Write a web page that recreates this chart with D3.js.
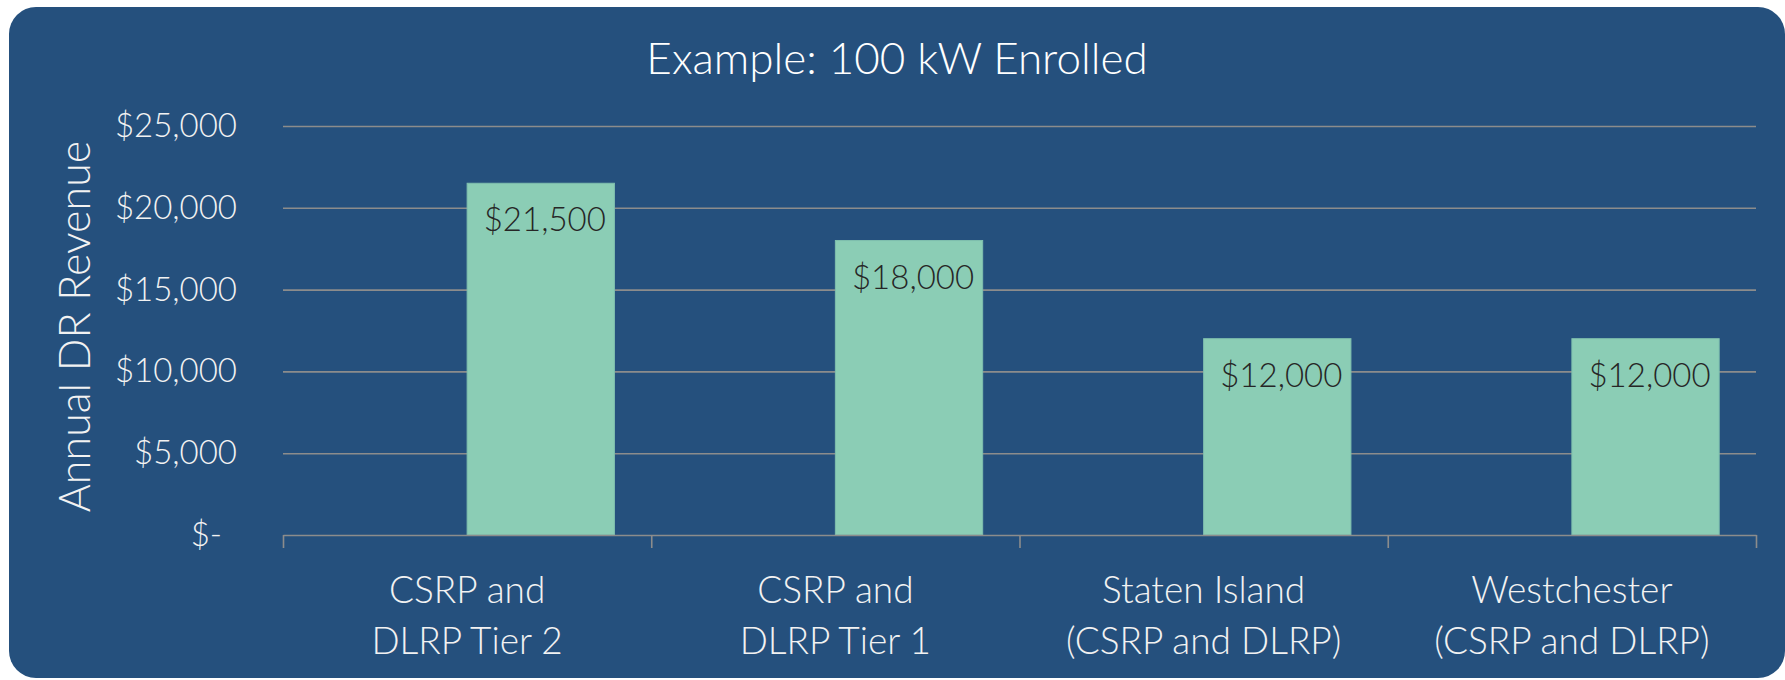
<!DOCTYPE html>
<html>
<head>
<meta charset="utf-8">
<script src="https://cdn.jsdelivr.net/npm/d3@7"></script>
<style>
  html, body { margin: 0; padding: 0; background: #ffffff; }
  svg { display: block; }
  text { font-family: "Lato", "Open Sans", sans-serif; font-weight: 300; }
</style>
</head>
<body>
<svg id="chart" width="1785" height="680"></svg>
<script>
// ---- data ----
const categories = [
  ["CSRP and", "DLRP Tier 2"],
  ["CSRP and", "DLRP Tier 1"],
  ["Staten Island", "(CSRP and DLRP)"],
  ["Westchester", "(CSRP and DLRP)"]
];
const categoryKeys = ["CSRP and DLRP Tier 2", "CSRP and DLRP Tier 1", "Staten Island (CSRP and DLRP)", "Westchester (CSRP and DLRP)"];
const seriesNames = ["Series 1", "Series 2"];
const series1Values = [null, null, null, null];
const series2Values = [21500, 18000, 12000, 12000];
const dataLabels = ["$21,500", "$18,000", "$12,000", "$12,000"];
const yTicks = [0, 5000, 10000, 15000, 20000, 25000];
const yTickLabels = ["$-", "$5,000", "$10,000", "$15,000", "$20,000", "$25,000"];
const chartTitle = "Example: 100 kW Enrolled";
const yAxisTitle = "Annual DR Revenue";

// ---- layout ----
const svg = d3.select("#chart");
const plot = { left: 283, right: 1756, top: 126, bottom: 535 };
const bg = "#25507d";
const barColor = "#8bcdb5";
const gridColor = "#8c8c8c";
const textLight = "#f2f2f2";
const labelDark = "#262626";

svg.append("rect")
  .attr("x", 9).attr("y", 7)
  .attr("width", 1776).attr("height", 671)
  .attr("rx", 27).attr("ry", 27)
  .attr("fill", bg);

const x = d3.scaleBand().domain(categoryKeys).range([plot.left, plot.right]).paddingInner(0).paddingOuter(0);
const xSub = d3.scaleBand().domain(seriesNames).range([0, x.bandwidth()]).paddingInner(0).paddingOuter(0.25);
const y = d3.scaleLinear().domain([0, 25000]).range([plot.bottom, plot.top]);

// gridlines
const grid = d3.axisLeft(y).tickValues(yTicks.slice(1)).tickSize(-(plot.right - plot.left)).tickFormat("");
svg.append("g").attr("transform", `translate(${plot.left},0)`).call(grid)
  .call(g => g.select(".domain").remove())
  .call(g => g.selectAll("line").attr("stroke", gridColor).attr("stroke-width", 1.6));

// y tick labels
const yAxis = d3.axisLeft(y).tickValues(yTicks).tickSize(0).tickPadding(0)
  .tickFormat((d, i) => yTickLabels[i]);
svg.append("g").attr("transform", `translate(237,0)`).call(yAxis)
  .call(g => g.select(".domain").remove())
  .call(g => g.selectAll("text")
    .attr("fill", textLight).attr("font-size", 33)
    .style("font-family", "Lato, 'Open Sans', sans-serif").style("font-weight", 300)
    .attr("dx", (d) => d === 0 ? -15 : 0));

// bars
const seriesData = [series1Values, series2Values];
seriesNames.forEach((s, si) => {
  const vals = seriesData[si];
  svg.append("g").selectAll("rect")
    .data(categoryKeys.map((c, i) => ({ c, v: vals[i] })).filter(d => d.v != null))
    .join("rect")
    .attr("x", d => x(d.c) + xSub(s))
    .attr("y", d => y(d.v))
    .attr("width", xSub.bandwidth())
    .attr("height", d => y(0) - y(d.v))
    .attr("fill", barColor)
    .attr("stroke", "#7fbfae").attr("stroke-width", 1);
});

// x axis line with ticks between categories
const xAxis = d3.axisBottom(d3.scaleLinear().domain([0, categoryKeys.length]).range([plot.left, plot.right]))
  .tickValues(d3.range(categoryKeys.length + 1)).tickSize(13).tickSizeOuter(0).tickFormat("");
svg.append("g").attr("transform", `translate(0,${plot.bottom})`).call(xAxis)
  .call(g => g.select(".domain").attr("stroke", gridColor).attr("stroke-width", 1.6))
  .call(g => g.selectAll("line").attr("stroke", gridColor).attr("stroke-width", 1.6));

// data labels
svg.append("g").selectAll("text")
  .data(series2Values.map((v, i) => ({ v, c: categoryKeys[i], t: dataLabels[i] })))
  .join("text")
  .attr("x", d => x(d.c) + xSub("Series 2") + xSub.bandwidth() / 2 + 4)
  .attr("y", d => y(d.v) + 48)
  .attr("text-anchor", "middle")
  .attr("font-size", 33)
  .attr("fill", labelDark)
  .text(d => d.t);

// category labels
const catG = svg.append("g").selectAll("text")
  .data(categories.map((lines, i) => ({ lines, c: categoryKeys[i] })))
  .join("text")
  .attr("text-anchor", "middle")
  .attr("font-size", 37)
  .attr("fill", textLight);
catG.selectAll("tspan")
  .data(d => d.lines.map((l, j) => ({ l, j, c: d.c })))
  .join("tspan")
  .attr("x", d => x(d.c) + x.bandwidth() / 2)
  .attr("y", d => 603 + d.j * 51)
  .text(d => d.l);

// y axis title
svg.append("text")
  .attr("transform", `translate(90,${(plot.top + plot.bottom) / 2 - 4}) rotate(-90)`)
  .attr("text-anchor", "middle")
  .attr("font-size", 43)
  .attr("fill", textLight)
  .text(yAxisTitle);

// chart title
svg.append("text")
  .attr("x", 897).attr("y", 74)
  .attr("text-anchor", "middle")
  .attr("font-size", 44)
  .attr("fill", "#ffffff")
  .text(chartTitle);
</script>
</body>
</html>
